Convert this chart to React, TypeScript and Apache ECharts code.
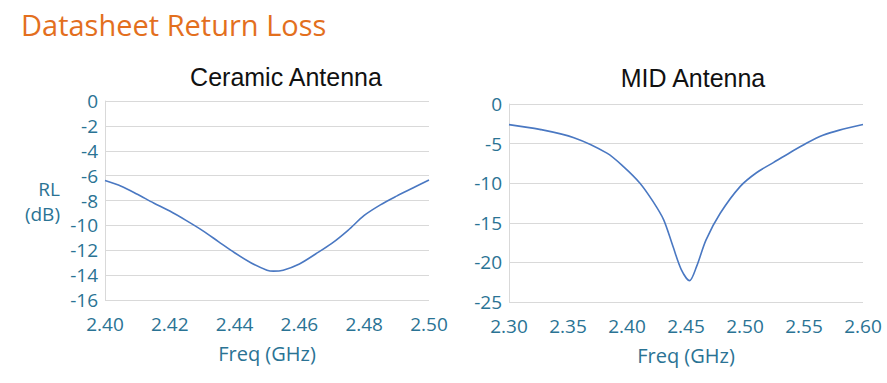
import React, { useEffect, useRef } from "react";
import * as echarts from "echarts";

const ceramicFreq = [2.400, 2.405, 2.410, 2.415, 2.420, 2.425, 2.430, 2.435, 2.440, 2.445, 2.450, 2.452, 2.455, 2.460, 2.465, 2.470, 2.475, 2.480, 2.485, 2.490, 2.495, 2.500];
const ceramicRL = [-6.40, -6.85, -7.50, -8.20, -8.85, -9.60, -10.40, -11.30, -12.20, -13.00, -13.60, -13.68, -13.60, -13.10, -12.30, -11.45, -10.40, -9.20, -8.35, -7.65, -7.00, -6.35];

const midFreq = [2.300, 2.326, 2.355, 2.383, 2.397, 2.411, 2.422, 2.431, 2.439, 2.446, 2.453, 2.459, 2.467, 2.479, 2.496, 2.510, 2.524, 2.538, 2.552, 2.566, 2.580, 2.600];
const midRL = [-2.6, -3.2, -4.25, -6.2, -7.9, -10.0, -12.3, -14.6, -18.0, -20.9, -22.3, -20.5, -17.15, -13.8, -10.4, -8.65, -7.4, -6.15, -4.96, -3.95, -3.3, -2.6];

const ceramicXTicks = { min: 2.4, max: 2.5, interval: 0.02 };
const ceramicYTicks = { min: -16, max: 0, interval: 2 };
const midXTicks = { min: 2.3, max: 2.6, interval: 0.05 };
const midYTicks = { min: -25, max: 0, interval: 5 };

const TEAL = "#2A7394";
const ORANGE = "#E36F1E";
const LINE = "#4A78C2";
const GRID = "#D9D9D9";
const FONT = "'Open Sans', 'Noto Sans', sans-serif";

export default function App() {
  const ref = useRef<HTMLDivElement>(null);
  useEffect(() => {
    if (!ref.current) return;
    const chart = echarts.init(ref.current, undefined, { renderer: "svg" });
    const xAxisBase = (t: any, decimals: number) => ({
      type: "value",
      min: t.min,
      max: t.max,
      interval: t.interval,
      axisLine: { show: false },
      axisTick: { show: false },
      splitLine: { show: false },
      axisLabel: {
        color: TEAL,
        fontSize: 19,
        fontFamily: FONT,
        margin: 14,
        formatter: (v: number) => v.toFixed(decimals),
      },
      nameLocation: "middle",
      name: "Freq (GHz)",
      nameGap: 43,
      nameTextStyle: { color: TEAL, fontSize: 20, fontFamily: FONT },
    });
    const yAxisBase = (t: any) => ({
      type: "value",
      min: t.min,
      max: t.max,
      interval: t.interval,
      axisLine: { show: true, lineStyle: { color: GRID, width: 1 } },
      axisTick: { show: false },
      splitLine: { show: true, lineStyle: { color: GRID, width: 1 } },
      axisLabel: { color: TEAL, fontSize: 19, fontFamily: FONT, margin: 7 },
    });
    chart.setOption({
      animation: false,
      backgroundColor: "#ffffff",
      grid: [
        { left: 105, top: 101, width: 324, height: 199, containLabel: false },
        { left: 509, top: 104, width: 354, height: 198, containLabel: false },
      ],
      xAxis: [
        { ...xAxisBase(ceramicXTicks, 2), gridIndex: 0 },
        { ...xAxisBase(midXTicks, 2), gridIndex: 1 },
      ],
      yAxis: [
        { ...yAxisBase(ceramicYTicks), gridIndex: 0 },
        { ...yAxisBase(midYTicks), gridIndex: 1 },
      ],
      graphic: [
        {
          type: "text",
          x: 21,
          y: 24,
          style: { text: "Datasheet Return Loss", fill: ORANGE, fontSize: 29, fontFamily: FONT, align: "left", verticalAlign: "middle" },
        },
        {
          type: "text",
          x: 286,
          y: 77,
          style: { text: "Ceramic Antenna", fill: "#111", fontSize: 25, fontFamily: "'Liberation Sans', Arial, sans-serif", align: "center", verticalAlign: "middle" },
        },
        {
          type: "text",
          x: 693,
          y: 78,
          style: { text: "MID Antenna", fill: "#111", fontSize: 25, fontFamily: "'Liberation Sans', Arial, sans-serif", align: "center", verticalAlign: "middle" },
        },
        {
          type: "text",
          x: 60,
          y: 189,
          style: { text: "RL", fill: TEAL, fontSize: 19, fontFamily: FONT, align: "right", verticalAlign: "middle" },
        },
        {
          type: "text",
          x: 60,
          y: 214,
          style: { text: "(dB)", fill: TEAL, fontSize: 19, fontFamily: FONT, align: "right", verticalAlign: "middle" },
        },
      ],
      series: [
        {
          type: "line",
          xAxisIndex: 0,
          yAxisIndex: 0,
          data: ceramicFreq.map((f, i) => [f, ceramicRL[i]]),
          showSymbol: false,
          smooth: 0.3,
          lineStyle: { color: LINE, width: 1.6 },
        },
        {
          type: "line",
          xAxisIndex: 1,
          yAxisIndex: 1,
          data: midFreq.map((f, i) => [f, midRL[i]]),
          showSymbol: false,
          smooth: 0.3,
          lineStyle: { color: LINE, width: 1.6 },
        },
      ],
    });
    return () => chart.dispose();
  }, []);
  return (
    <div
      ref={ref}
      style={{ position: "fixed", left: 0, top: 0, width: 887, height: 383, background: "#fff" }}
    />
  );
}
